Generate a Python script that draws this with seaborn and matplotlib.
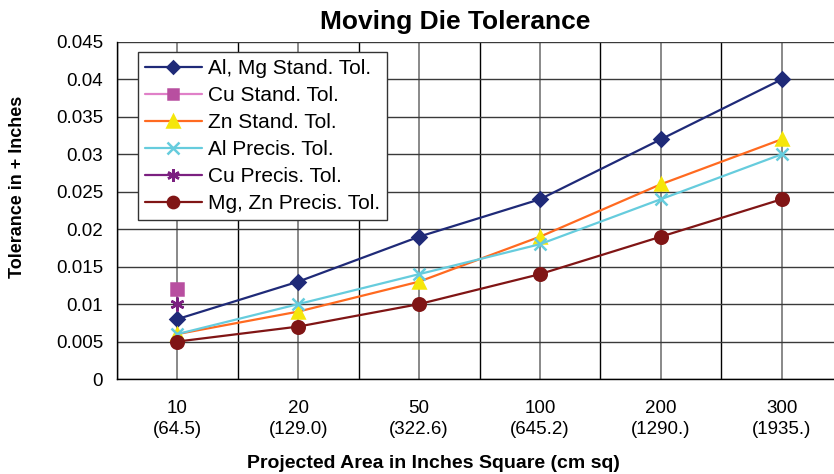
import numpy as np
import pandas as pd
import matplotlib
matplotlib.use("Agg")
import matplotlib.pyplot as plt
from matplotlib.ticker import FixedLocator, FuncFormatter, NullFormatter
import seaborn as sns

# ── Data ─────────────────────────────────────────────────────────────────────
areas = ["10\n(64.5)", "20\n(129.0)", "50\n(322.6)", "100\n(645.2)",
         "200\n(1290.)", "300\n(1935.)"]
al_mg_stand = [0.008, 0.013, 0.019, 0.024, 0.032, 0.040]
cu_stand = [0.012, np.nan, np.nan, np.nan, np.nan, np.nan]
zn_stand = [0.006, 0.009, 0.013, 0.019, 0.026, 0.032]
al_precis = [0.006, 0.010, 0.014, 0.018, 0.024, 0.030]
cu_precis = [0.010, np.nan, np.nan, np.nan, np.nan, np.nan]
mg_zn_precis = [0.005, 0.007, 0.010, 0.014, 0.019, 0.024]

# name, values, line colour, marker, marker colour, marker size
series = [
    ("Al, Mg Stand. Tol.", al_mg_stand, "#1F2A78", "D", "#1F2A78", 7),
    ("Cu Stand. Tol.", cu_stand, "#E080C8", "s", "#B84FA0", 8),
    ("Zn Stand. Tol.", zn_stand, "#FF6A20", "^", "#F5E60A", 9),
    ("Al Precis. Tol.", al_precis, "#66CCDD", "x", "#66CCDD", 9),
    ("Cu Precis. Tol.", cu_precis, "#7B2080", (6, 2, 0), "#7B2080", 10),
    ("Mg, Zn Precis. Tol.", mg_zn_precis, "#801515", "o", "#801515", 9),
]

sns.set_style("white")
plt.rcParams["font.family"] = ["Liberation Sans", "DejaVu Sans"]
plt.rcParams["text.color"] = "black"

fig = plt.figure(figsize=(8.34, 4.74), dpi=100)
ax = fig.add_axes([117 / 834, 1 - 379 / 474, 725 / 834, 337 / 474])

pos = np.arange(len(areas))
for name, vals, lc, mk, mc, ms in series:
    df = pd.DataFrame({"x": pos, "y": vals, "s": name}).dropna()
    sns.lineplot(data=df, x="x", y="y", ax=ax, color=lc, lw=1.6,
                 marker=mk, markersize=ms, markerfacecolor=mc,
                 markeredgecolor=mc, markeredgewidth=1.8, label=name)

ax.set_xlim(-0.5, 5.5)
ax.set_ylim(0, 0.045)
# boundaries = major ticks (drawn), category centres = minor (labels only)
ax.xaxis.set_major_locator(FixedLocator(np.arange(-0.5, 6.0, 1.0)))
ax.xaxis.set_major_formatter(NullFormatter())
ax.set_xticks(pos, minor=True)
ax.set_xticklabels(areas, minor=True, fontsize=13.5, linespacing=1.35)
ax.tick_params(axis="x", which="major", direction="out", length=4.5,
               color="black", width=1)
ax.tick_params(axis="x", which="minor", length=0, pad=15, labelcolor="black")
ax.set_yticks(np.arange(0, 0.0451, 0.005))
ax.yaxis.set_major_formatter(FuncFormatter(lambda v, p: f"{v:g}"))
ax.tick_params(axis="y", direction="out", length=7, width=1, pad=3,
               color="black", labelsize=13.5, labelcolor="black")

ax.grid(True, which="major", axis="y", color="#3a3a3a", lw=1.0)
ax.grid(True, which="major", axis="x", color="black", lw=1.0)
ax.grid(True, which="minor", axis="x", color="#808080", lw=1.3)
for s in ["left", "bottom"]:
    ax.spines[s].set_color("black")
    ax.spines[s].set_linewidth(1.0)
ax.spines["top"].set_visible(False)
ax.spines["right"].set_visible(False)

ax.set_xlabel("")
ax.set_ylabel("")
fig.text(433 / 834, 1 - 463 / 474, "Projected Area in Inches Square (cm sq)",
         ha="center", va="center", fontsize=14, fontweight="bold")
fig.text(18 / 834, 1 - 187 / 474, "Tolerance in + Inches", rotation=90,
         ha="center", va="center", fontsize=13, fontweight="bold")
fig.text(455 / 834, 1 - 22 / 474, "Moving Die Tolerance",
         ha="center", va="center", fontsize=19, fontweight="bold")

leg = ax.legend(loc="upper left", bbox_to_anchor=(21 / 725, 1 - 10 / 337),
                fontsize=15, frameon=True, fancybox=False, framealpha=1,
                edgecolor="#333333", borderpad=0.35, labelspacing=0.38,
                handlelength=2.7, handletextpad=0.3, borderaxespad=0,
                markerscale=0.9)
leg.get_frame().set_linewidth(1.0)

fig.savefig("out.png", dpi=100)
